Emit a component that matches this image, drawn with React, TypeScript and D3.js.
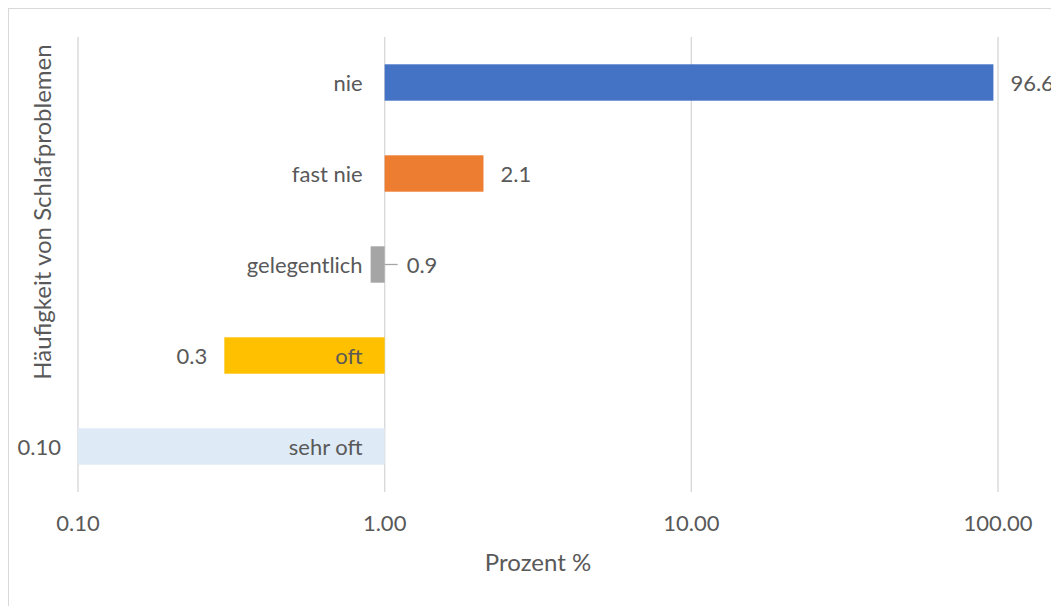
import React from "react";
import * as d3 from "d3";

const categories = ["nie", "fast nie", "gelegentlich", "oft", "sehr oft"];
const values = [96.6, 2.1, 0.9, 0.3, 0.1];
const valueLabels = ["96.6", "2.1", "0.9", "0.3", "0.10"];
const colors = ["#4472C4", "#ED7D31", "#A5A5A5", "#FFC000", "#DEEBF7"];
const tickValues = [0.1, 1, 10, 100];
const tickLabels = ["0.10", "1.00", "10.00", "100.00"];
const xTitle = "Prozent %";
const yTitle = "Häufigkeit von Schlafproblemen";

const W = 1051;
const H = 606;
const FONT = "Lato, 'Open Sans', sans-serif";
const TXT = "#595959";

export default function App() {
  const x = d3.scaleLog().domain([0.1, 100]).range([78, 998]);
  const y = d3
    .scaleBand<string>()
    .domain(categories)
    .range([37, 492])
    .paddingInner(0.6)
    .paddingOuter(0.3);
  const base = x(1);
  const bw = y.bandwidth();

  return (
    <svg
      width={W}
      height={H}
      style={{ position: "absolute", left: 0, top: 0, background: "#fff" }}
      fontFamily={FONT}
    >
      <rect x={8.5} y={8.5} width={1100} height={700} fill="#fff" stroke="#d9d9d9" strokeWidth={1} />
      {tickValues.map((t, i) => (
        <g key={"g" + i}>
          <line x1={x(t)} x2={x(t)} y1={37} y2={492} stroke="#d9d9d9" strokeWidth={1.4} />
          <text x={x(t)} y={531} textAnchor="middle" fontSize={22} fill={TXT}>
            {tickLabels[i]}
          </text>
        </g>
      ))}
      {categories.map((c, i) => {
        const v = values[i];
        const x0 = Math.min(x(v), base);
        const x1 = Math.max(x(v), base);
        const cy = (y(c) as number) + bw / 2;
        const small = x1 - x0 < 30;
        let label;
        if (v >= 1) {
          label = (
            <text x={x(v) + 17} y={cy + 8.5} fontSize={22} fill={TXT}>
              {valueLabels[i]}
            </text>
          );
        } else if (small) {
          label = (
            <g>
              <line x1={base} x2={base + 13} y1={cy} y2={cy} stroke="#a6a6a6" strokeWidth={1.3} />
              <text x={base + 22} y={cy + 8.5} fontSize={22} fill={TXT}>
                {valueLabels[i]}
              </text>
            </g>
          );
        } else {
          label = (
            <text x={x(v) - 17} y={cy + 8.5} textAnchor="end" fontSize={22} fill={TXT}>
              {valueLabels[i]}
            </text>
          );
        }
        return (
          <g key={c}>
            <rect x={x0} y={y(c)} width={x1 - x0} height={bw} fill={colors[i]} />
            {label}
          </g>
        );
      })}
      {categories.map((c, i) => (
        <text
          key={"l" + c}
          x={base - 22}
          y={(y(c) as number) + bw / 2 + 8.5}
          textAnchor="end"
          fontSize={22}
          fill={TXT}
        >
          {c}
        </text>
      ))}
      <text x={538} y={571} textAnchor="middle" fontSize={24} fill={TXT}>
        {xTitle}
      </text>
      <text
        transform={`translate(51,212) rotate(-90)`}
        textAnchor="middle"
        fontSize={24}
        fill={TXT}
      >
        {yTitle}
      </text>
    </svg>
  );
}
